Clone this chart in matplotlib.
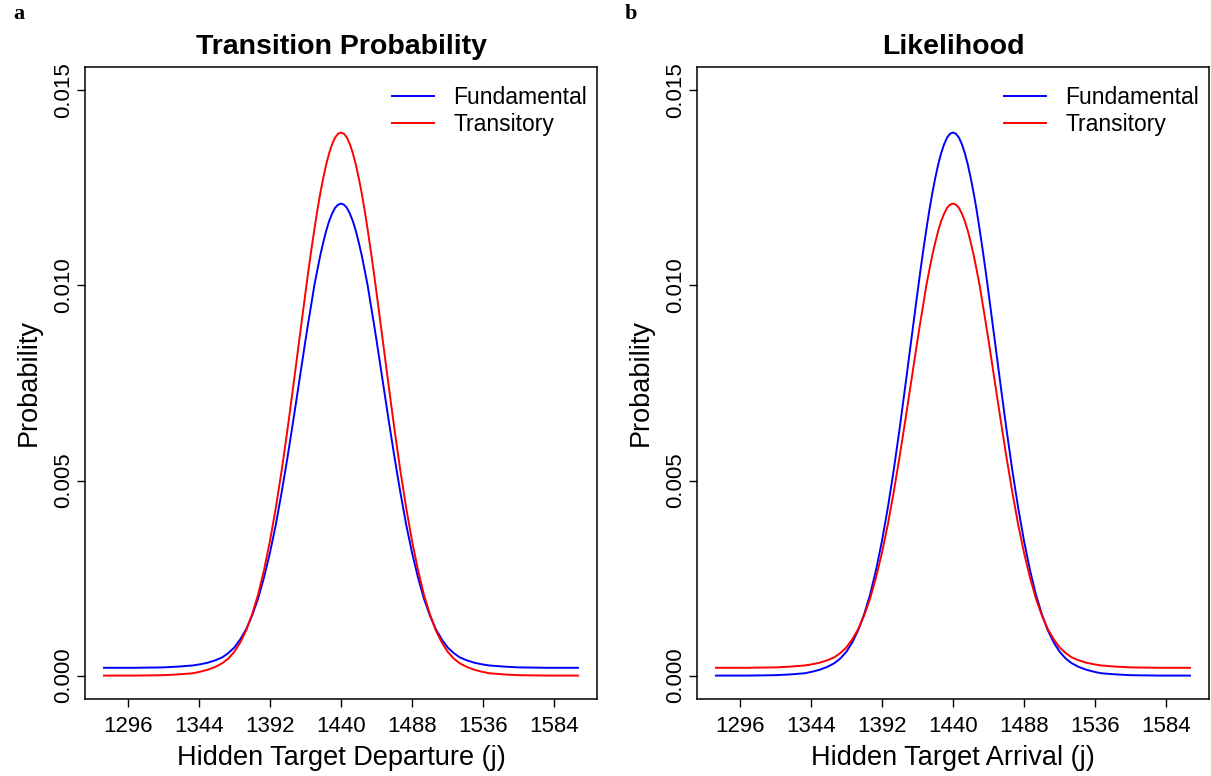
import matplotlib.pyplot as plt

# hidden target position j
j_vals = [1280, 1300, 1320, 1330, 1340, 1345, 1350, 1355, 1360, 1364, 1368,
          1372, 1376, 1380, 1384, 1388, 1392, 1396, 1400, 1404, 1408, 1412,
          1416, 1418, 1420, 1422, 1424, 1426, 1428, 1430, 1432, 1434, 1436,
          1438, 1440, 1442, 1444, 1446, 1448, 1450, 1452, 1454, 1456, 1458,
          1460, 1462, 1464, 1468, 1472, 1476, 1480, 1484, 1488, 1492, 1496,
          1500, 1504, 1508, 1512, 1516, 1520, 1525, 1530, 1535, 1540, 1550,
          1560, 1580, 1600]

# sharp curve (peak ~0.0139, floor ~0)
sharp = [0.00000, 0.00000, 0.00001, 0.00003, 0.00006, 0.00010, 0.00015,
         0.00022, 0.00032, 0.00044, 0.00061, 0.00085, 0.00116, 0.00157,
         0.00207, 0.00270, 0.00344, 0.00430, 0.00527, 0.00634, 0.00748,
         0.00865, 0.00981, 0.01038, 0.01092, 0.01143, 0.01192, 0.01236,
         0.01275, 0.01310, 0.01339, 0.01362, 0.01379, 0.01389, 0.01392,
         0.01389, 0.01379, 0.01362, 0.01339, 0.01310, 0.01275, 0.01236,
         0.01192, 0.01143, 0.01092, 0.01038, 0.00981, 0.00865, 0.00748,
         0.00634, 0.00527, 0.00430, 0.00344, 0.00270, 0.00207, 0.00157,
         0.00116, 0.00085, 0.00061, 0.00044, 0.00032, 0.00022, 0.00015,
         0.00010, 0.00006, 0.00003, 0.00001, 0.00000, 0.00000]

# flatter curve (peak ~0.0121, floor ~0.0002)
flat = [0.00020, 0.00020, 0.00021, 0.00023, 0.00026, 0.00029, 0.00033,
        0.00039, 0.00047, 0.00058, 0.00072, 0.00093, 0.00119, 0.00154,
        0.00197, 0.00251, 0.00314, 0.00387, 0.00471, 0.00562, 0.00659,
        0.00759, 0.00859, 0.00907, 0.00953, 0.01000, 0.01039, 0.01077,
        0.01110, 0.01140, 0.01165, 0.01184, 0.01199, 0.01207, 0.01210,
        0.01207, 0.01199, 0.01184, 0.01165, 0.01140, 0.01110, 0.01077,
        0.01039, 0.01000, 0.00953, 0.00907, 0.00859, 0.00759, 0.00659,
        0.00562, 0.00471, 0.00387, 0.00314, 0.00251, 0.00197, 0.00154,
        0.00119, 0.00093, 0.00072, 0.00058, 0.00047, 0.00039, 0.00033,
        0.00029, 0.00026, 0.00023, 0.00021, 0.00020, 0.00020]

x_ticks = [1296, 1344, 1392, 1440, 1488, 1536, 1584]
y_ticks = [0.000, 0.005, 0.010, 0.015]

panels = [
    ("a", "Transition Probability", "Hidden Target Departure (j)", flat, sharp),
    ("b", "Likelihood", "Hidden Target Arrival (j)", sharp, flat),
]

plt.rcParams['font.family'] = ['Liberation Sans', 'DejaVu Sans']

W, H = 1211, 776
fig = plt.figure(figsize=(W / 100, H / 100), dpi=100)

lefts = [85, 697]
for (tag, title, xlab, fund, trans), left in zip(panels, lefts):
    ax = fig.add_axes([left / W, 1 - 699 / H, 512 / W, 632 / H])
    ax.plot(j_vals, fund, color="#0000FF", lw=1.4, label="Fundamental")
    ax.plot(j_vals, trans, color="#FF0000", lw=1.4, label="Transitory")

    ax.set_xlim(1267.2, 1612.8)
    ax.set_ylim(-0.0006, 0.0156)
    ax.set_xticks(x_ticks)
    ax.set_xticklabels([str(t) for t in x_ticks])
    ax.set_yticks(y_ticks)
    ax.set_yticklabels(["%.3f" % t for t in y_ticks], rotation=90, va="center")
    ax.tick_params(axis="both", direction="out", length=6, width=1.0,
                   labelsize=16)
    ax.tick_params(axis="x", pad=6)
    ax.tick_params(axis="y", pad=2)
    for sp in ax.spines.values():
        sp.set_linewidth(1.1)

    ax.set_title(title, fontsize=20.5, fontweight="bold", pad=9)
    ax.set_xlabel(xlab, fontsize=19.5, labelpad=6)
    ax.set_ylabel("Probability", fontsize=19.5, labelpad=8)

    ax.legend(loc="upper right", bbox_to_anchor=(1 + 4 / 512, 1 - 5 / 632),
              frameon=False, fontsize=16.5,
              handlelength=1.85, handletextpad=0.85, labelspacing=0.2,
              borderaxespad=0.3, borderpad=0.3)

    fig.text((left - 72) / W, 1 - 14 / H, tag, fontsize=16, fontweight="bold",
             family="Liberation Serif", ha="left", va="center")

fig.savefig("out.png", dpi=100)
